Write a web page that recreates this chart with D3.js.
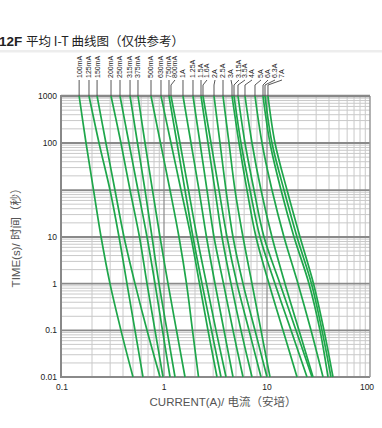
<!DOCTYPE html>
<html><head><meta charset="utf-8">
<script src="https://cdn.jsdelivr.net/npm/d3@7"></script>
<style>body{margin:0;background:#fff}svg{display:block}</style>
</head><body>
<svg id="c" width="382" height="428"></svg>
<script>
// ---- data ----
const ratings = ["100mA","125mA","150mA","200mA","250mA","315mA","375mA","500mA","630mA","750mA","800mA","1A","1.25A","1.5A","1.6A","2A","2.5A","3A","3.15A","3.5A","4A","5A","6A","6.3A","7A"];
// times (s) at which the currents below are read
const times = [1000, 100, 31.6, 10, 1, 0.1, 0.01];
// current (A) of each curve at each time
const currents = [
  [0.150,0.175,0.207,0.245,0.299,0.382,0.500],
  [0.187,0.234,0.299,0.366,0.437,0.523,0.625],
  [0.224,0.273,0.334,0.409,0.523,0.684,0.915],
  [0.306,0.382,0.468,0.578,0.684,0.818,0.978],
  [0.374,0.457,0.559,0.684,0.818,0.967,1.144],
  [0.468,0.553,0.654,0.765,0.894,1.069,1.279],
  [0.559,0.654,0.773,0.915,1.094,1.322,1.599],
  [0.748,0.925,1.144,1.398,1.654,1.891,2.163],
  [0.935,1.169,1.462,1.829,2.212,2.674,3.27],
  [1.118,1.337,1.599,1.912,2.339,2.892,3.576],
  [1.169,1.43,1.729,2.091,2.586,3.198,4.0],
  [1.529,1.829,2.187,2.586,3.127,3.823,4.677],
  [1.912,2.236,2.615,3.058,3.782,4.677,5.848],
  [2.287,2.674,3.127,3.657,4.472,5.592,7.152],
  [2.391,2.86,3.42,4.09,5.114,6.687,8.744],
  [3.058,3.498,4.0,4.677,5.848,7.646,10.0],
  [3.74,4.277,4.89,5.848,7.152,8.744,10.69],
  [4.574,5.348,6.394,7.82,10.46,14.30,19.56],
  [4.783,5.592,6.839,8.55,11.96,17.10,24.45],
  [5.229,6.115,7.477,9.352,13.37,19.12,27.35],
  [6.115,7.152,8.744,11.18,14.95,20.45,27.98],
  [7.646,8.944,11.18,14.62,20.0,26.74,34.98],
  [9.146,10.69,13.68,18.29,25.57,32.70,39.11],
  [9.563,11.18,14.62,19.56,27.04,34.20,41.82],
  [10.22,11.96,15.64,20.92,28.29,35.76,43.73]
];
const xTickValues = [0.1, 1, 10, 100];
const xTickLabels = ["0.1", "1", "10", "100"];
const yTickValues = [0.01, 0.1, 1, 10, 100, 1000];
const yTickLabels = ["0.01", "0.1", "1", "10", "100", "1000"];
const yGridLevels = [0.01, 0.1, 1, 10, 31.6, 100, 1000];

// ---- layout ----
const labelShift = [0,0,0,0,0,0,0,0,0,0,4,0,0,0,4,1,0,-1,5,7,7,6,5,10,14];
const L = 61, R = 370, T = 96, B = 377;
const svg = d3.select('#c');
const x = d3.scaleLog().domain([0.1, 100]).range([L, R]);
const y = d3.scaleLog().domain([0.01, 10, 100, 1000]).range([B, 237, 143, T]);

// title
const title = svg.append('text').attr('x', -1).attr('y', 46)
  .attr('font-family', '"Noto Sans CJK SC", "Liberation Sans", sans-serif').attr('fill', '#222');
title.append('tspan').attr('font-weight', 'bold').attr('font-size', 13.5).attr('font-family','"Liberation Sans", Arial, sans-serif').text('12F ');
title.append('tspan').attr('font-size', 12.5).text('平均 I-T 曲线图（仅供参考）');
svg.append('rect').attr('x', 0).attr('y', 50).attr('width', 382).attr('height', 2.5).attr('fill', '#ededed');

const g = svg.append('g');
// minor vertical grid
const minorX = [];
[0.1, 1, 10].forEach(d => { for (let k = 2; k <= 9; k++) minorX.push(d * k); });
g.selectAll('.mx').data(minorX).enter().append('line')
  .attr('x1', d => x(d)).attr('x2', d => x(d)).attr('y1', T).attr('y2', B)
  .attr('stroke', '#c9c9c9').attr('stroke-width', 1);
// minor horizontal grid
const minorY = [];
for (let i = 0; i < yGridLevels.length - 1; i++) {
  const s = d3.scaleLog().domain([1, 10]).range([y(yGridLevels[i]), y(yGridLevels[i + 1])]);
  for (let k = 2; k <= 9; k++) minorY.push(s(k));
}
g.selectAll('.my').data(minorY).enter().append('line')
  .attr('x1', L).attr('x2', R).attr('y1', d => d).attr('y2', d => d)
  .attr('stroke', '#c9c9c9').attr('stroke-width', 1);
// major vertical
g.selectAll('.Mx').data([1, 10]).enter().append('line')
  .attr('x1', d => x(d)).attr('x2', d => x(d)).attr('y1', T).attr('y2', B)
  .attr('stroke', '#8a8a8a').attr('stroke-width', 1.2);
// major horizontal
g.selectAll('.My').data(yGridLevels).enter().append('line')
  .attr('x1', L).attr('x2', R).attr('y1', d => y(d)).attr('y2', d => y(d))
  .attr('stroke', '#8a8a8a').attr('stroke-width', 1.8);
// frame
g.append('line').attr('x1', L).attr('x2', L).attr('y1', T - 1).attr('y2', B + 1).attr('stroke', '#888').attr('stroke-width', 2);
g.append('line').attr('x1', R).attr('x2', R).attr('y1', T).attr('y2', B).attr('stroke', '#999').attr('stroke-width', 1.5);
g.append('line').attr('x1', L).attr('x2', R).attr('y1', T).attr('y2', T).attr('stroke', '#888').attr('stroke-width', 2.5);

// curves
const line = d3.line().x(d => x(d[0])).y(d => y(d[1])).curve(d3.curveCatmullRom.alpha(0.5));
g.selectAll('.curve').data(currents).enter().append('path')
  .attr('d', c => line(c.map((v, j) => [v, times[j]])))
  .attr('fill', 'none').attr('stroke', '#1ea64a').attr('stroke-width', 1.7);

// rating labels with leaders
const labG = svg.append('g');
ratings.forEach((r, i) => {
  const cx = x(currents[i][0]);
  const lx = cx + labelShift[i];
  const p = labelShift[i] === 0 ? `M${lx},80V${T}` : `M${lx},80L${cx},85V${T}`;
  labG.append('path').attr('d', p).attr('fill', 'none').attr('stroke', '#444').attr('stroke-width', 0.9);
  labG.append('text').attr('transform', `translate(${lx},78) rotate(-90)`)
    .attr('dy', '0.35em').attr('font-size', 7).attr('font-family', '"Liberation Sans", Arial, sans-serif')
    .attr('fill', '#222').text(r);
});

// tick labels
svg.selectAll('.yt').data(yTickValues).enter().append('text')
  .attr('x', 57).attr('y', d => y(d) + 3).attr('text-anchor', 'end')
  .attr('font-size', 8.5).attr('font-family', '"Liberation Sans", Arial, sans-serif').attr('fill', '#222')
  .text((d, i) => yTickLabels[i]);
svg.selectAll('.xt').data(xTickValues).enter().append('text')
  .attr('x', d => x(d) + (d === 0.1 ? 1 : 0) - (d === 100 ? 3 : 0)).attr('y', 390).attr('text-anchor', 'middle')
  .attr('font-size', 8.5).attr('font-family', '"Liberation Sans", Arial, sans-serif').attr('fill', '#222')
  .text((d, i) => xTickLabels[i]);

// axis titles
svg.append('text').attr('x', 223).attr('y', 406).attr('text-anchor', 'middle')
  .attr('font-size', 11.5).attr('font-family', '"Liberation Sans", "Noto Sans CJK SC", sans-serif').attr('fill', '#555')
  .text('CURRENT(A)/ 电流（安培）');
svg.append('text').attr('transform', 'translate(20,235) rotate(-90)').attr('text-anchor', 'middle')
  .attr('font-size', 11.5).attr('font-family', '"Liberation Sans", "Noto Sans CJK SC", sans-serif').attr('fill', '#555')
  .text('TIME(s)/ 时间（秒）');
</script>
</body></html>
